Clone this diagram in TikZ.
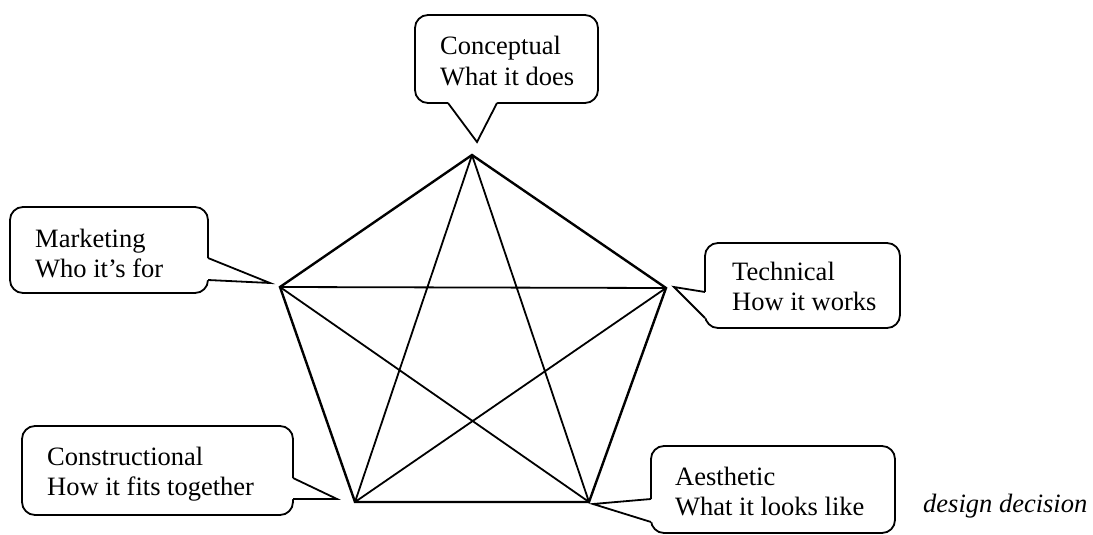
\documentclass[tikz,border=0pt]{standalone}
\usepackage{fontspec}
\setmainfont{Liberation Serif}
\begin{document}
\begin{tikzpicture}[x=1pt,y=-1pt,
  box/.style={line width=1.8pt, rounded corners=13pt},
  ptr/.style={line width=1.8pt, line join=miter},
  cover/.style={fill=white},
  lbl/.style={anchor=base west, inner sep=0pt, font=\fontsize{26.5}{30.5}\selectfont},
  pedge/.style={line width=2.4pt, line join=miter},
  pdiag/.style={line width=1.8pt}]
\useasboundingbox (0,0) rectangle (1093,535);

% pentagon vertices
\coordinate (T)  at (472,155);
\coordinate (L)  at (280,287);
\coordinate (R)  at (666,288);
\coordinate (BL) at (355,502);
\coordinate (BR) at (589,502);

\draw[pdiag] (T) -- (BL) (T) -- (BR) (L) -- (R) (L) -- (BR) (R) -- (BL);
\draw[pedge] (T) -- (R) -- (BR) -- (BL) -- (L) -- cycle;

% Conceptual
\draw[box] (415,15) rectangle (598,103);
\path[cover] (448,100) -- (448,103) -- (477,142) -- (497,103) -- (497,100) -- cycle;
\draw[ptr] (448,103) -- (477,142) -- (497,103);
\node[lbl] (concept) at (440,55) {\begin{tabular}[t]{@{}l@{}}Conceptual\\What it does\end{tabular}};

% Marketing
\draw[box] (10,207) rectangle (208,293);
\path[cover] (205,258) -- (208,258) -- (270,283) -- (208,280) -- (205,280) -- cycle;
\draw[ptr] (208,258) -- (270,283) -- (208,280);
\node[lbl] (market) at (35,247) {\begin{tabular}[t]{@{}l@{}}Marketing\\Who it’s for\end{tabular}};

% Technical
\draw[box] (705,243) rectangle (900,328);
\path[cover] (708,292) -- (705,292) -- (674,287) -- (705,318) -- (708,318) -- cycle;
\draw[ptr] (705,292) -- (674,287) -- (705,318);
\node[lbl] (tech) at (732,280) {\begin{tabular}[t]{@{}l@{}}Technical\\How it works\end{tabular}};

% Constructional
\draw[box] (22,426) rectangle (293,515);
\path[cover] (290,478) -- (293,478) -- (337,499) -- (293,499) -- (290,499) -- cycle;
\draw[ptr] (293,478) -- (337,499) -- (293,499);
\node[lbl] (constr) at (47,465) {\begin{tabular}[t]{@{}l@{}}Constructional\\How it fits together\end{tabular}};

% Aesthetic
\draw[box] (651,446) rectangle (895,533);
\path[cover] (654,499) -- (651,499) -- (593,504) -- (651,522) -- (654,522) -- cycle;
\draw[ptr] (651,499) -- (593,504) -- (651,522);
\node[lbl] (aesth) at (675,485) {\begin{tabular}[t]{@{}l@{}}Aesthetic\\What it looks like\end{tabular}};

\node[lbl, font=\fontsize{26.5}{30.5}\selectfont\itshape] (dd) at (923,512) {design decision};
\end{tikzpicture}
\end{document}
